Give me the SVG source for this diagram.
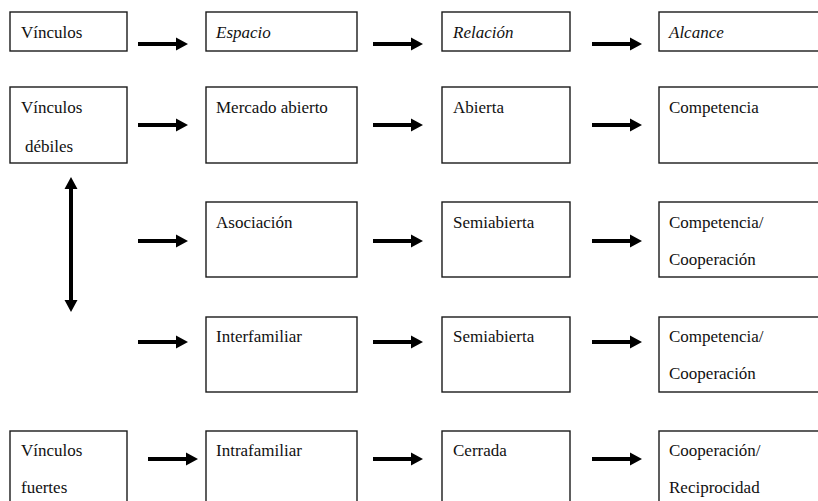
<svg xmlns="http://www.w3.org/2000/svg" xmlns:xlink="http://www.w3.org/1999/xlink" width="818" height="501" viewBox="0 0 818 501">
<style>
.box{fill:#fff;stroke:#1a1a1a;stroke-width:1.4}
.t{font-family:"Liberation Serif","Times New Roman",serif;font-size:17px;fill:#111}
.i{font-style:italic}
.arr{fill:#000}
</style>
<defs>
<path id="harr" d="M0,-2 H38 V-6.5 L50,0 L38,6.5 V2 H0 Z"/>
</defs>
<rect width="818" height="501" fill="#fff"/>
<g id="connectors" class="arr">
<use xlink:href="#harr" x="138" y="44"/>
<use xlink:href="#harr" x="373" y="44"/>
<use xlink:href="#harr" x="592" y="44"/>
<use xlink:href="#harr" x="138" y="125"/>
<use xlink:href="#harr" x="373" y="125"/>
<use xlink:href="#harr" x="592" y="125"/>
<use xlink:href="#harr" x="138" y="241"/>
<use xlink:href="#harr" x="373" y="241"/>
<use xlink:href="#harr" x="592" y="241"/>
<use xlink:href="#harr" x="138" y="342"/>
<use xlink:href="#harr" x="373" y="342"/>
<use xlink:href="#harr" x="592" y="342"/>
<use xlink:href="#harr" x="148" y="459"/>
<use xlink:href="#harr" x="373" y="459"/>
<use xlink:href="#harr" x="592" y="459"/>
<path id="vlink" d="M71,177 L77.5,189 H73 V300 H77.5 L71,312 L64.5,300 H69 V189 H64.5 Z"/>
</g>
<g id="n-vinculos"><rect class="box" x="10" y="12" width="117" height="39"/><text class="t" x="21" y="38">Vínculos</text></g>
<g id="n-espacio"><rect class="box" x="206" y="12" width="151" height="39"/><text class="t i" x="216" y="38">Espacio</text></g>
<g id="n-relacion"><rect class="box" x="442" y="12" width="128" height="39"/><text class="t i" x="453" y="38">Relación</text></g>
<g id="n-alcance"><rect class="box" x="659" y="12" width="170" height="39"/><text class="t i" x="669" y="38">Alcance</text></g>

<g id="n-debiles"><rect class="box" x="10" y="87" width="117" height="76"/><text class="t" x="21" y="113">Vínculos</text><text class="t" x="25" y="152">débiles</text></g>
<g id="n-mercado"><rect class="box" x="206" y="87" width="151" height="76"/><text class="t" x="216" y="113">Mercado abierto</text></g>
<g id="n-abierta"><rect class="box" x="442" y="87" width="128" height="76"/><text class="t" x="453" y="113">Abierta</text></g>
<g id="n-competencia"><rect class="box" x="659" y="87" width="170" height="76"/><text class="t" x="669" y="113">Competencia</text></g>

<g id="n-asociacion"><rect class="box" x="206" y="202" width="151" height="75"/><text class="t" x="216" y="228">Asociación</text></g>
<g id="n-semiabierta1"><rect class="box" x="442" y="202" width="128" height="75"/><text class="t" x="453" y="228">Semiabierta</text></g>
<g id="n-compcoop1"><rect class="box" x="659" y="202" width="170" height="75"/><text class="t" x="669" y="228">Competencia/</text><text class="t" x="669" y="265">Cooperación</text></g>

<g id="n-interfamiliar"><rect class="box" x="206" y="317" width="151" height="75"/><text class="t" x="216" y="342">Interfamiliar</text></g>
<g id="n-semiabierta2"><rect class="box" x="442" y="317" width="128" height="75"/><text class="t" x="453" y="342">Semiabierta</text></g>
<g id="n-compcoop2"><rect class="box" x="659" y="317" width="170" height="75"/><text class="t" x="669" y="342">Competencia/</text><text class="t" x="669" y="379">Cooperación</text></g>

<g id="n-fuertes"><rect class="box" x="10" y="431" width="117" height="80"/><text class="t" x="21" y="456">Vínculos</text><text class="t" x="21" y="493">fuertes</text></g>
<g id="n-intrafamiliar"><rect class="box" x="206" y="431" width="151" height="80"/><text class="t" x="216" y="456">Intrafamiliar</text></g>
<g id="n-cerrada"><rect class="box" x="442" y="431" width="128" height="80"/><text class="t" x="453" y="456">Cerrada</text></g>
<g id="n-coopreci"><rect class="box" x="659" y="431" width="170" height="80"/><text class="t" x="669" y="456">Cooperación/</text><text class="t" x="669" y="493">Reciprocidad</text></g>
</svg>
